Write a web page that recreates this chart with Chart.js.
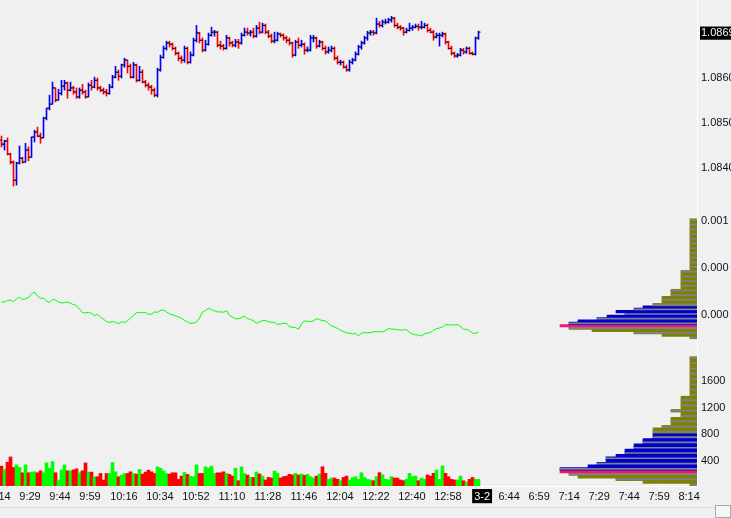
<!DOCTYPE html>
<html><head><meta charset="utf-8">
<script src="https://cdn.jsdelivr.net/npm/chart.js@4.4.1/dist/chart.umd.min.js"></script>
<style>
html,body{margin:0;padding:0;background:#f0f0f0;overflow:hidden}
#wrap{position:relative;width:731px;height:518px}
canvas{display:block}
#sb{position:absolute;left:0;top:507px;width:731px;height:1px;background:#dcdcdc}
#btn{position:absolute;left:715px;top:505px;width:16px;height:13px;border:1px solid #a8a8a8;background:#f6f6f6;box-sizing:border-box}
</style></head><body>
<div id="wrap"><canvas id="c" width="731" height="518"></canvas><div id="sb"></div><div id="btn"></div></div>
<script>
// ---- price bars (OHLC) ----
const openP = [
1.08459,1.08450,1.08457,1.08428,1.08410,1.08370,1.08408,1.08419,1.08410,1.08437,
1.08421,1.08466,1.08477,1.08468,1.08464,1.08508,1.08530,1.08539,1.08575,1.08548,
1.08563,1.08579,1.08586,1.08570,1.08575,1.08566,1.08555,1.08570,1.08566,1.08555,
1.08581,1.08577,1.08592,1.08575,1.08570,1.08566,1.08563,1.08577,1.08599,1.08610,
1.08601,1.08626,1.08637,1.08623,1.08599,1.08626,1.08592,1.08610,1.08588,1.08581,
1.08577,1.08570,1.08559,1.08615,1.08643,1.08663,1.08675,1.08672,1.08663,1.08652,
1.08641,1.08637,1.08663,1.08632,1.08648,1.08681,1.08697,1.08681,1.08659,1.08672,
1.08692,1.08699,1.08699,1.08670,1.08668,1.08663,1.08686,1.08675,1.08670,1.08677,
1.08675,1.08692,1.08699,1.08697,1.08699,1.08690,1.08708,1.08699,1.08714,1.08699,
1.08690,1.08679,1.08681,1.08695,1.08692,1.08686,1.08681,1.08675,1.08648,1.08677,
1.08670,1.08672,1.08659,1.08659,1.08686,1.08686,1.08668,1.08677,1.08663,1.08655,
1.08659,1.08663,1.08641,1.08632,1.08632,1.08621,1.08615,1.08632,1.08637,1.08650,
1.08666,1.08675,1.08686,1.08697,1.08699,1.08697,1.08717,1.08714,1.08721,1.08721,
1.08726,1.08730,1.08714,1.08710,1.08708,1.08699,1.08703,1.08708,1.08710,1.08712,
1.08710,1.08710,1.08714,1.08703,1.08699,1.08688,1.08692,1.08692,1.08695,1.08677,
1.08663,1.08652,1.08646,1.08648,1.08659,1.08655,1.08663,1.08652,1.08650,1.08686];
const highP = [
1.08468,1.08459,1.08464,1.08430,1.08413,1.08410,1.08446,1.08421,1.08452,1.08444,
1.08466,1.08481,1.08488,1.08475,1.08510,1.08530,1.08559,1.08588,1.08575,1.08572,
1.08592,1.08592,1.08588,1.08588,1.08579,1.08575,1.08575,1.08583,1.08570,1.08586,
1.08592,1.08599,1.08597,1.08579,1.08575,1.08572,1.08583,1.08603,1.08623,1.08615,
1.08628,1.08641,1.08637,1.08628,1.08632,1.08628,1.08623,1.08615,1.08592,1.08586,
1.08581,1.08575,1.08619,1.08648,1.08668,1.08679,1.08679,1.08675,1.08666,1.08655,
1.08646,1.08668,1.08666,1.08655,1.08686,1.08714,1.08699,1.08686,1.08681,1.08697,
1.08710,1.08703,1.08701,1.08679,1.08672,1.08692,1.08688,1.08679,1.08683,1.08683,
1.08697,1.08708,1.08708,1.08703,1.08708,1.08714,1.08721,1.08719,1.08717,1.08703,
1.08695,1.08699,1.08699,1.08697,1.08695,1.08690,1.08686,1.08677,1.08681,1.08686,
1.08681,1.08675,1.08666,1.08692,1.08692,1.08688,1.08681,1.08679,1.08668,1.08666,
1.08668,1.08666,1.08646,1.08637,1.08635,1.08626,1.08637,1.08641,1.08655,1.08670,
1.08679,1.08690,1.08701,1.08703,1.08703,1.08730,1.08723,1.08726,1.08728,1.08730,
1.08734,1.08732,1.08719,1.08714,1.08710,1.08708,1.08719,1.08714,1.08717,1.08717,
1.08723,1.08719,1.08717,1.08708,1.08703,1.08697,1.08697,1.08699,1.08697,1.08679,
1.08668,1.08655,1.08652,1.08663,1.08663,1.08666,1.08666,1.08655,1.08688,1.08701];
const lowP = [
1.08444,1.08437,1.08426,1.08406,1.08357,1.08359,1.08406,1.08408,1.08410,1.08413,
1.08421,1.08455,1.08466,1.08452,1.08464,1.08504,1.08526,1.08539,1.08544,1.08548,
1.08559,1.08570,1.08552,1.08568,1.08561,1.08552,1.08552,1.08561,1.08552,1.08555,
1.08570,1.08575,1.08570,1.08566,1.08561,1.08557,1.08561,1.08575,1.08597,1.08592,
1.08597,1.08621,1.08608,1.08597,1.08597,1.08588,1.08590,1.08586,1.08577,1.08570,
1.08561,1.08555,1.08555,1.08612,1.08641,1.08659,1.08666,1.08659,1.08648,1.08635,
1.08630,1.08632,1.08628,1.08630,1.08646,1.08677,1.08675,1.08655,1.08657,1.08670,
1.08690,1.08690,1.08666,1.08661,1.08659,1.08661,1.08668,1.08666,1.08666,1.08663,
1.08672,1.08690,1.08692,1.08690,1.08686,1.08688,1.08695,1.08697,1.08695,1.08686,
1.08675,1.08675,1.08679,1.08688,1.08681,1.08675,1.08670,1.08643,1.08646,1.08663,
1.08666,1.08650,1.08655,1.08657,1.08677,1.08663,1.08666,1.08659,1.08650,1.08652,
1.08655,1.08637,1.08628,1.08626,1.08619,1.08612,1.08612,1.08628,1.08635,1.08648,
1.08661,1.08672,1.08681,1.08692,1.08692,1.08695,1.08710,1.08710,1.08717,1.08719,
1.08721,1.08710,1.08706,1.08703,1.08692,1.08697,1.08701,1.08703,1.08708,1.08703,
1.08706,1.08708,1.08699,1.08697,1.08681,1.08686,1.08668,1.08688,1.08672,1.08661,
1.08648,1.08643,1.08643,1.08646,1.08650,1.08652,1.08650,1.08648,1.08648,1.08683];
const closeP = [
1.08450,1.08457,1.08428,1.08410,1.08370,1.08408,1.08419,1.08410,1.08437,1.08421,
1.08466,1.08477,1.08468,1.08464,1.08508,1.08530,1.08539,1.08575,1.08548,1.08563,
1.08579,1.08586,1.08570,1.08575,1.08566,1.08555,1.08570,1.08566,1.08555,1.08581,
1.08577,1.08592,1.08575,1.08570,1.08566,1.08563,1.08577,1.08599,1.08610,1.08601,
1.08626,1.08637,1.08623,1.08599,1.08626,1.08592,1.08610,1.08588,1.08581,1.08577,
1.08570,1.08559,1.08615,1.08643,1.08663,1.08675,1.08672,1.08663,1.08652,1.08641,
1.08637,1.08663,1.08632,1.08648,1.08681,1.08697,1.08681,1.08659,1.08672,1.08692,
1.08699,1.08699,1.08670,1.08668,1.08663,1.08686,1.08675,1.08670,1.08677,1.08675,
1.08692,1.08699,1.08697,1.08699,1.08690,1.08708,1.08699,1.08714,1.08699,1.08690,
1.08679,1.08681,1.08695,1.08692,1.08686,1.08681,1.08675,1.08648,1.08677,1.08670,
1.08672,1.08659,1.08659,1.08686,1.08686,1.08668,1.08677,1.08663,1.08655,1.08659,
1.08663,1.08641,1.08632,1.08632,1.08621,1.08615,1.08632,1.08637,1.08650,1.08666,
1.08675,1.08686,1.08697,1.08699,1.08697,1.08717,1.08714,1.08721,1.08721,1.08726,
1.08730,1.08714,1.08710,1.08708,1.08699,1.08703,1.08708,1.08710,1.08712,1.08710,
1.08710,1.08714,1.08703,1.08699,1.08688,1.08692,1.08692,1.08695,1.08677,1.08663,
1.08652,1.08646,1.08648,1.08659,1.08655,1.08663,1.08652,1.08650,1.08686,1.08699];

// ---- oscillator line ----
const oscValues = [
0.000128,0.000128,0.000144,0.000149,0.000133,0.000160,0.000178,0.000154,0.000160,0.000176,
0.000213,0.000234,0.000192,0.000167,0.000170,0.000138,0.000122,0.000154,0.000149,0.000128,
0.000117,0.000122,0.000128,0.000112,0.000101,0.000090,0.000053,0.000016,0.000011,0.000018,
0.000007,-0.000016,-0.000005,-0.000032,-0.000056,-0.000080,-0.000090,-0.000080,-0.000088,-0.000104,
-0.000083,-0.000090,-0.000072,-0.000043,-0.000011,0.000013,0.000016,0.000014,0.000017,-0.000005,
0.000000,0.000021,0.000019,0.000037,0.000043,0.000021,0.000002,-0.000009,-0.000019,-0.000032,
-0.000046,-0.000067,-0.000085,-0.000101,-0.000096,-0.000085,-0.000043,0.000021,0.000039,0.000061,
0.000045,0.000034,0.000021,0.000023,0.000019,0.000034,-0.000016,-0.000032,-0.000051,-0.000051,
-0.000037,-0.000021,-0.000048,-0.000059,-0.000071,-0.000098,-0.000085,-0.000067,-0.000069,-0.000083,
-0.000088,-0.000088,-0.000112,-0.000106,-0.000099,-0.000099,-0.000136,-0.000142,-0.000144,-0.000163,
-0.000101,-0.000074,-0.000077,-0.000081,-0.000071,-0.000051,-0.000059,-0.000071,-0.000073,-0.000101,
-0.000126,-0.000139,-0.000154,-0.000173,-0.000187,-0.000201,-0.000204,-0.000211,-0.000207,-0.000234,
-0.000202,-0.000199,-0.000199,-0.000199,-0.000189,-0.000188,-0.000189,-0.000189,-0.000176,-0.000156,
-0.000160,-0.000163,-0.000165,-0.000173,-0.000170,-0.000165,-0.000197,-0.000211,-0.000223,-0.000223,
-0.000234,-0.000211,-0.000202,-0.000198,-0.000173,-0.000157,-0.000149,-0.000138,-0.000112,-0.000115,
-0.000117,-0.000115,-0.000112,-0.000133,-0.000163,-0.000163,-0.000176,-0.000205,-0.000205,-0.000192];

// ---- volume ----
const volumes = [
300,250,360,440,280,320,280,200,320,200,
210,215,200,230,200,350,270,370,200,90,
240,320,230,230,245,260,200,230,350,210,
210,140,140,190,90,190,190,355,215,140,
165,190,190,215,190,180,250,180,210,240,
215,190,290,270,230,190,180,200,200,100,
150,205,175,150,140,320,190,190,290,270,
300,190,200,200,215,190,175,150,270,80,
290,190,165,130,130,212,182,150,91,130,
121,227,192,121,141,150,177,167,192,167,
182,162,177,141,121,150,182,292,192,101,
121,121,101,80,130,150,91,125,141,101,
202,130,101,91,80,140,202,170,101,91,
141,121,120,91,80,101,192,141,150,80,
121,101,167,150,192,242,101,303,192,141,
101,91,91,150,80,60,101,130,101,100];

// ---- oscillator profile (level -> count) ----
const oscLevels = [-0.000250,-0.000225,-0.000200,-0.000175,-0.000150,-0.000125,-0.000100,-0.000075,-0.000050,-0.000025,
0,0.000025,0.000050,0.000075,0.000100,0.000125,0.000150,0.000175,0.000200,0.000225,
0.000250,0.000275,0.000300,0.000325,0.000350,0.000375,0.000400,0.000425,0.000450,0.000475,
0.000500,0.000525,0.000550,0.000575,0.000600,0.000625,0.000650,0.000675,0.000700,0.000725,
0.000750,0.000775,0.000800,0.000825,0.000850,0.000875,0.000900,0.000925,0.000950,0.000975,0.001000];
const oscCounts = [7,35,63,105,128,137,128,119,100,90,
72,81,63,54,44,35,35,35,26,26,
26,16,16,16,16,16,16,16,16,7,
7,7,7,7,7,7,7,7,7,7,
7,7,7,7,7,7,7,7,7,7,7];
const oscValueArea = [6, 13];

// ---- volume profile (level -> count) ----
const volLevels = [20,60,100,140,180,220,260,300,340,380,
420,460,500,540,580,620,660,700,740,780,
820,860,900,940,980,1020,1060,1100,1140,1180,
1220,1260,1300,1340,1380,1420,1460,1500,1540,1580,
1620,1660,1700,1740,1780,1820,1860,1900,1940];
const volCounts = [7,54,81,119,128,137,137,109,100,91,
91,81,72,72,63,63,54,54,44,44,
44,44,35,26,26,26,16,16,26,16,
16,16,16,16,7,7,7,7,7,7,
7,7,7,7,7,7,7,7,7];
const volValueArea = [6, 19];

// ---- axis ticks ----
const xTickIdx = [-0.5,9.5,19.5,29.5,40.8,52.8,64.8,76.8,88.8,100.8,112.8,124.8,136.8,148.8,160.2,169.2,179.2,189.2,199.2,209.2,219.2,229.2];
const xTickLabels = ["9:14","9:29","9:44","9:59","10:16","10:34","10:52","11:10","11:28","11:46","12:04","12:22","12:40","12:58","3-2","6:44","6:59","7:14","7:29","7:44","7:59","8:14"];
const priceTicks = [1.0840, 1.0850, 1.0860];
const oscTicks = [0, 0.0005, 0.0010];
const volTicks = [400, 800, 1200, 1600];

// ---------------------------------------------------------------
const lastClose = closeP[closeP.length - 1];
const FONT = {family: "'Liberation Sans', Arial, sans-serif", size: 11};
const up = closeP.map((c, i) => c >= openP[i]);

function profColors(counts, va) {
  const poc = counts.indexOf(Math.max(...counts));
  return counts.map((w, k) => k === poc ? '#ff1070' : (k >= va[0] && k <= va[1] ? '#0000c8' : '#808000'));
}
const stripe = arr => arr.map((w, k) => k % 2 === 0 ? '#7c8294' : 'rgba(0,0,0,0)');

function yAxis(min, max, weight, tickVals, fmt, special) {
  return {
    type: 'linear', position: 'right', stack: 'panels', stackWeight: weight,
    min: min, max: max, offset: false, beginAtZero: false,
    afterBuildTicks: s => { s.ticks = tickVals.map(v => ({value: v})); },
    afterFit: s => { s.width = 34; s.paddingTop = 0; s.paddingBottom = 0; },
    grid: {drawOnChartArea: false, offset: false, color: '#ffffff', tickLength: 3, lineWidth: 1},
    border: {color: '#ffffff', width: 1},
    ticks: {
      autoSkip: false, padding: 1, font: FONT, labelOffset: 1,
      callback: fmt,
      color: ctx => (special && ctx.tick && ctx.tick.value === special) ? '#e8ffff' : '#10101a',
      showLabelBackdrop: ctx => !!(special && ctx.tick && ctx.tick.value === special),
      backdropColor: '#000000',
      backdropPadding: {left: 1, right: 2, top: 0, bottom: 0}
    }
  };
}

const idx = closeP.map((c, i) => i);

new Chart(document.getElementById('c'), {
  data: {
    datasets: [
      // open ticks
      {type: 'scatter', xAxisID: 'x', yAxisID: 'yp', order: 0,
       data: idx.map(i => ({x: i - 1/3, y: openP[i]})),
       pointStyle: 'line', pointRadius: 1, pointHoverRadius: 1, pointBorderWidth: 1, pointBorderColor: '#000', pointBackgroundColor: '#000'},
      // close ticks
      {type: 'scatter', xAxisID: 'x', yAxisID: 'yp', order: 0,
       data: idx.map(i => ({x: i + 1/3, y: closeP[i]})),
       pointStyle: 'line', pointRadius: 1, pointHoverRadius: 1, pointBorderWidth: 1, pointBorderColor: '#000', pointBackgroundColor: '#000'},
      // high-low lines
      {type: 'bar', xAxisID: 'x', yAxisID: 'yp', order: 1, grouped: false, barThickness: 1,
       data: idx.map(i => ({x: i, y: [lowP[i], highP[i]]})),
       backgroundColor: up.map(u => u ? '#0000ff' : '#ff0000')},
      // oscillator line
      {type: 'line', xAxisID: 'x', yAxisID: 'yi', order: 1,
       data: idx.map(i => ({x: i, y: oscValues[i]})),
       borderColor: '#00ff00', borderWidth: 1, pointRadius: 0, pointHoverRadius: 0, tension: 0, fill: false},
      // volume bars
      {type: 'bar', xAxisID: 'x', yAxisID: 'yv', order: 1, grouped: false, barThickness: 3,
       data: idx.map(i => ({x: i, y: volumes[i]})),
       backgroundColor: up.map(u => u ? '#00ff00' : '#ff0000')},
      // oscillator profile
      {type: 'bar', indexAxis: 'y', xAxisID: 'xp', yAxisID: 'yi', order: 3, grouped: false, barThickness: 2.45,
       data: oscCounts.map((w, k) => ({x: w, y: oscLevels[k]})),
       backgroundColor: profColors(oscCounts, oscValueArea)},
      {type: 'bar', indexAxis: 'y', xAxisID: 'xp', yAxisID: 'yi', order: 2, grouped: false, barThickness: 1,
       data: oscCounts.map((w, k) => ({x: w, y: oscLevels[k]})),
       backgroundColor: stripe(oscCounts)},
      // volume profile
      {type: 'bar', indexAxis: 'y', xAxisID: 'xp', yAxisID: 'yv', order: 3, grouped: false, barThickness: 2.7,
       data: volCounts.map((w, k) => ({x: w, y: volLevels[k]})),
       backgroundColor: profColors(volCounts, volValueArea)},
      {type: 'bar', indexAxis: 'y', xAxisID: 'xp', yAxisID: 'yv', order: 2, grouped: false, barThickness: 1,
       data: volCounts.map((w, k) => ({x: w, y: volLevels[k]})),
       backgroundColor: stripe(volCounts)}
    ]
  },
  options: {
    responsive: false, animation: false, devicePixelRatio: 1, events: [],
    layout: {padding: 0, autoPadding: false},
    plugins: {legend: {display: false}, tooltip: {enabled: false}},
    scales: {
      x: {
        type: 'linear', position: 'bottom', min: -0.5, max: -0.5 + 697 / 3, offset: false,
        afterBuildTicks: s => { s.ticks = xTickIdx.map(v => ({value: v})); },
        afterFit: s => { s.height = 32; s.paddingLeft = 0; s.paddingRight = 0; },
        grid: {drawOnChartArea: false, offset: false, color: '#ffffff', tickLength: 3},
        border: {color: '#ffffff', width: 1},
        ticks: {
          autoSkip: false, maxRotation: 0, minRotation: 0, padding: 1, font: FONT,
          callback: (v, i) => xTickLabels[i],
          color: ctx => xTickLabels[ctx.index] === '3-2' ? '#ffffff' : '#10101a',
          showLabelBackdrop: ctx => xTickLabels[ctx.index] === '3-2',
          backdropColor: '#000000',
          backdropPadding: {left: 2, right: 2, top: 1, bottom: 0}
        }
      },
      xp: {type: 'linear', position: 'top', display: false, offset: false, min: 0, max: 697, reverse: true,
           grid: {offset: false}},
      yp: yAxis(1.082993, 1.087704, 212, priceTicks.concat([lastClose]),
                v => (Math.floor(v * 1e4 + 1e-6) / 1e4).toFixed(4), lastClose),
      yi: yAxis(-0.00037234, 0.00108511, 137, oscTicks,
                v => (Math.floor(v * 1e3 + 1e-6) / 1e3).toFixed(3), null),
      yv: yAxis(0, 2076, 137, volTicks, v => String(v), null)
    }
  }
});
</script>
</body></html>
